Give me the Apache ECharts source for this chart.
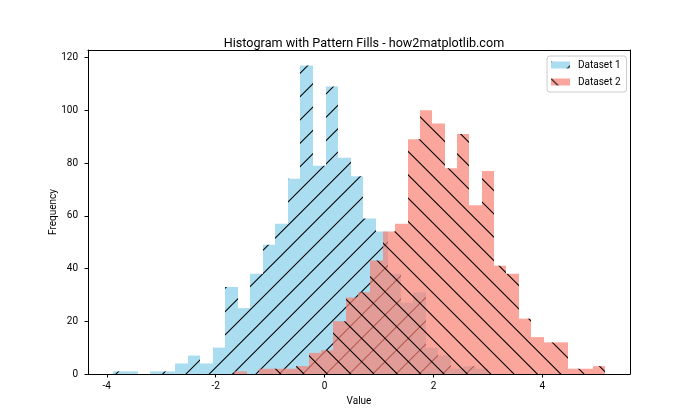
<!DOCTYPE html>
<html><head><meta charset="utf-8">
<script src="https://cdn.jsdelivr.net/npm/echarts@6/dist/echarts.min.js"></script>
<style>html,body{margin:0;padding:0;background:#fff}#c{width:700px;height:420px}</style>
</head><body><div id="c"></div>
<script>
// ---- data ----
const seriesNames = ['Dataset 1', 'Dataset 2'];
const dataset1Range = [-3.893, 3.007];   // first and last bin edge
const dataset1Counts = [1, 1, 0, 1, 1, 4, 7, 4, 10, 33, 25, 38, 49, 57, 74, 117, 79, 109, 82, 75, 59, 54, 38, 27, 31, 10, 7, 2, 3, 2];
const dataset2Range = [-1.657, 5.156];
const dataset2Counts = [1, 0, 2, 2, 2, 3, 8, 9, 20, 29, 31, 43, 54, 57, 89, 100, 95, 78, 91, 64, 77, 41, 38, 21, 14, 12, 12, 2, 2, 3];
const xTickValues = [-4, -2, 0, 2, 4];
const yTickValues = [0, 20, 40, 60, 80, 100, 120];
const xLimits = [-4.345, 5.608];
const yLimits = [0, 122.85];
const titleText = 'Histogram with Pattern Fills - how2matplotlib.com';
const xName = 'Value';
const yName = 'Frequency';

const FONT = 'Roboto, "Noto Sans", sans-serif';

function makePattern(fill, dir) {
  const c = document.createElement('canvas');
  c.width = 70; c.height = 70;
  const ctx = c.getContext('2d');
  ctx.fillStyle = fill;
  ctx.fillRect(0, 0, 70, 70);
  ctx.strokeStyle = '#000';
  ctx.lineWidth = 1.05;
  const s = 70 / 3;
  ctx.beginPath();
  for (let k = -3; k <= 9; k++) {
    const c0 = k * s;
    if (dir === '/') { ctx.moveTo(c0 + 10, -10); ctx.lineTo(c0 - 80, 80); }
    else { ctx.moveTo(-10, c0 - 10); ctx.lineTo(80, c0 + 80); }
  }
  ctx.stroke();
  return { image: c, repeat: 'repeat' };
}
const pat1 = makePattern('rgba(135,206,235,0.7)', '/');
const pat2 = makePattern('rgba(250,128,114,0.7)', '\\');

function binData(range, counts) {
  const w = (range[1] - range[0]) / counts.length;
  return counts.map((c, i) => [range[0] + i * w, range[0] + (i + 1) * w, c]);
}
function renderBar(pattern) {
  return function (params, api) {
    const top = api.coord([api.value(0), api.value(2)]);
    const bot = api.coord([api.value(1), 0]);
    const x0 = Math.round(top[0]), x1 = Math.round(bot[0]);
    return { type: 'rect', shape: { x: x0, y: top[1], width: x1 - x0, height: bot[1] - top[1] }, style: { fill: pattern } };
  };
}

const chart = echarts.init(document.getElementById('c'), null, { renderer: 'canvas' });
chart.setOption({
  animation: false,
  backgroundColor: '#fff',
  textStyle: { fontFamily: FONT },
  title: {
    text: titleText, left: 359, top: 32, textAlign: 'center',
    textStyle: { fontFamily: FONT, fontSize: 12.6, fontWeight: 'normal', color: '#000' }
  },
  legend: {
    data: seriesNames, orient: 'vertical', left: 547, top: 56,
    icon: 'rect', itemWidth: 19, itemHeight: 7, itemGap: 5,
    padding: [3, 6, 4, 4],
    backgroundColor: 'rgba(255,255,255,0.8)', borderColor: '#cccccc', borderWidth: 1, borderRadius: 3,
    textStyle: { fontFamily: FONT, fontSize: 10, color: '#000', lineHeight: 12, padding: [0, 0, 0, 3] }
  },
  grid: { left: 88, right: 70, top: 50, bottom: 46, containLabel: false },
  xAxis: [{
    type: 'value', min: xLimits[0], max: xLimits[1],
    name: xName, nameLocation: 'middle', nameGap: 22, nameMoveOverlap: false,
    nameTextStyle: { fontFamily: FONT, fontSize: 10, color: '#000' },
    axisLine: { show: true, onZero: false, lineStyle: { color: '#000', width: 1 } },
    axisTick: { show: true, length: 3.5, customValues: xTickValues, lineStyle: { color: '#000' } },
    axisLabel: { customValues: xTickValues, margin: 7, fontSize: 10, color: '#000', fontFamily: FONT },
    splitLine: { show: false }
  }, {
    type: 'value', position: 'top', min: 0, max: 1,
    axisLine: { show: true, onZero: false, lineStyle: { color: '#000', width: 1 } },
    axisTick: { show: false }, axisLabel: { show: false }, splitLine: { show: false }
  }],
  yAxis: [{
    type: 'value', min: yLimits[0], max: yLimits[1],
    name: yName, nameLocation: 'middle', nameGap: 30, nameRotate: 90, nameMoveOverlap: false,
    nameTextStyle: { fontFamily: FONT, fontSize: 10, color: '#000' },
    axisLine: { show: true, onZero: false, lineStyle: { color: '#000', width: 1 } },
    axisTick: { show: true, length: 3.5, customValues: yTickValues, lineStyle: { color: '#000' } },
    axisLabel: { customValues: yTickValues, margin: 10, fontSize: 10, color: '#000', fontFamily: FONT },
    splitLine: { show: false }
  }, {
    type: 'value', position: 'right', min: 0, max: 1,
    axisLine: { show: true, onZero: false, lineStyle: { color: '#000', width: 1 } },
    axisTick: { show: false }, axisLabel: { show: false }, splitLine: { show: false }
  }],
  series: [{
    name: seriesNames[0], type: 'custom', xAxisIndex: 0, yAxisIndex: 0,
    itemStyle: { color: pat1 },
    encode: { x: [0, 1], y: 2 },
    renderItem: renderBar(pat1),
    data: binData(dataset1Range, dataset1Counts)
  }, {
    name: seriesNames[1], type: 'custom', xAxisIndex: 0, yAxisIndex: 0,
    itemStyle: { color: pat2 },
    encode: { x: [0, 1], y: 2 },
    renderItem: renderBar(pat2),
    data: binData(dataset2Range, dataset2Counts)
  }]
});
</script>
</body></html>
